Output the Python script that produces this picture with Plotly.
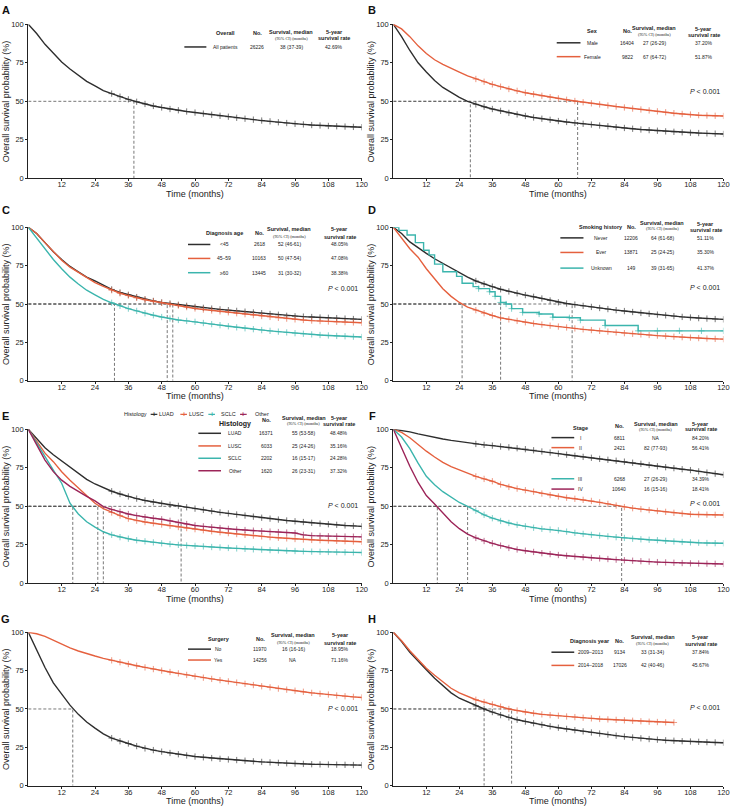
import plotly.graph_objects as go

# time grid (months) used for the read-off survival values
months = list(range(0, 121, 3))

# ---- A: overall
surv_all = [100, 94, 87, 81, 75.5, 71, 67, 63, 60, 57, 55, 53, 51.3, 49.7, 48.3, 47, 46, 45, 44.2, 43.4,
            42.7, 42, 41.3, 40.6, 40, 39.3, 38.7, 38.1, 37.5, 37, 36.4, 35.9, 35.4, 35, 34.6, 34.3, 34,
            33.8, 33.6, 33.4, 33.2]

# ---- B: sex
surv_male = [100, 92, 83, 75, 69, 63.5, 59, 55.5, 52.5, 50, 48, 46.5, 45, 43.8, 42.5, 41.5, 40.5, 39.5,
             38.7, 38, 37.2, 36.6, 36, 35.4, 34.9, 34.3, 33.8, 33.2, 32.7, 32.2, 31.7, 31.3, 30.9, 30.5,
             30.2, 29.9, 29.6, 29.4, 29.2, 29, 28.8]
surv_female = [100, 97, 92, 86, 81, 77, 74, 71.3, 69, 66.5, 64.5, 62.7, 61, 59.5, 58, 56.8, 55.6, 54.6,
               53.6, 52.7, 51.9, 51, 50.2, 49.4, 48.7, 48, 47.3, 46.6, 46, 45.3, 44.7, 44.1, 43.5, 42.9,
               42.3, 41.8, 41.4, 41, 40.8, 40.6, 40.5]

# ---- C: diagnosis age
surv_lt45 = [100, 96, 90, 84, 79, 74.5, 71, 67.5, 65, 62, 59.5, 57.5, 56, 54.5, 53, 52, 51, 50.3, 49.5,
             48.8, 48.1, 47.5, 47, 46.5, 46, 45.5, 45, 44.5, 44, 43.5, 43, 42.3, 42, 41.8, 41.5, 41.2,
             41, 40.8, 40.5, 40.2, 40]
surv_45_59 = [100, 96, 90, 84, 78.5, 74, 70.5, 67, 64, 61.5, 59, 57, 55.5, 54, 52.8, 51.8, 50.8, 49.8,
              49, 48, 47.1, 46.4, 45.8, 45.2, 44.6, 44, 43.4, 42.8, 42.2, 41.6, 41, 40.5, 40, 39.6, 39.2,
              38.9, 38.6, 38.4, 38.2, 38, 37.8]
surv_ge60 = [100, 93, 86, 79, 73, 67.5, 63, 59, 56, 53, 50.8, 48.8, 47, 45.5, 44, 42.7, 41.5, 40.5, 39.6,
             39, 38.4, 37.6, 36.9, 36.2, 35.5, 34.8, 34.2, 33.6, 33, 32.5, 32, 31.5, 31, 30.6, 30.2, 29.8,
             29.5, 29.2, 29, 28.7, 28.5]

# ---- D: smoking history
surv_never = [100, 96, 90.5, 86.5, 83, 79.5, 76.5, 73, 70, 67.5, 65, 63, 61.3, 59.6, 58.2, 57, 55.8, 54.7,
              53.6, 52.3, 51.1, 50.3, 49.6, 48.8, 48.1, 47.4, 46.7, 46, 45.4, 44.8, 44.2, 43.6, 43.1,
              42.6, 42.1, 41.6, 41.2, 40.8, 40.5, 40.2, 40]
surv_ever = [100, 93, 86, 80.5, 73, 66.5, 60, 55, 51, 48, 46, 44, 42.5, 41, 40, 39, 38.1, 37.3, 36.6, 35.9,
             35.3, 34.7, 34.1, 33.5, 33, 32.5, 32, 31.5, 31, 30.6, 30.2, 29.8, 29.4, 29.1, 28.7, 28.4,
             28.1, 27.8, 27.5, 27.3, 27.1]
unknown_t = [0, 2, 5, 8, 11, 13, 15, 18, 23, 25, 29, 31, 35, 37, 39, 41, 43, 47, 53, 58, 64, 68, 77, 89,
             96, 104, 112, 120]
surv_unknown = [100, 98, 95, 90, 85, 82, 76, 71, 68, 63.5, 61.3, 60, 58, 55, 51, 50, 47, 44.5, 43.5, 41.4,
                41, 39.5, 36, 32.5, 32.5, 32.5, 32.5, 32.5]

# ---- E: histology
surv_luad = [100, 94, 88, 83.5, 79.5, 75, 71, 67.5, 64.5, 62, 59.8, 58, 56.4, 55, 53.8, 52.7, 51.8, 51,
             50.3, 49.4, 48.5, 47.7, 46.9, 46.1, 45.4, 44.7, 44, 43.3, 42.6, 42, 41.4, 40.8, 40.3, 39.8,
             39.3, 38.8, 38.4, 38, 37.6, 37.3, 37]
surv_lusc = [100, 92, 84.5, 79, 72.5, 67, 62, 57, 52, 48.5, 46, 44, 42, 40.7, 39.8, 39, 38.2, 37.4, 36.6,
             35.9, 35.2, 34.5, 33.8, 33.2, 32.6, 32, 31.5, 31, 30.5, 30, 29.6, 29.2, 28.8, 28.5, 28.2, 28,
             27.8, 27.6, 27.4, 27.2, 27]
surv_sclc = [100, 91, 82, 73.5, 65, 52, 45, 40, 36.5, 33.5, 31.5, 30, 29, 28, 27.3, 26.6, 26, 25.5, 25,
             24.6, 24.3, 24, 23.6, 23.3, 23, 22.7, 22.4, 22.1, 21.9, 21.6, 21.4, 21.2, 21, 20.8, 20.6,
             20.5, 20.4, 20.3, 20.2, 20.1, 20]
surv_other = [100, 90, 80, 72.5, 67, 63, 59.5, 56.5, 53.5, 49.8, 48, 46.5, 45, 44, 43, 42.3, 41.6, 40.6,
              39.4, 38.5, 37.6, 37, 36.4, 35.9, 35.4, 35, 34.6, 34.2, 33.9, 33.6, 33.3, 33, 32.7, 31.5,
              31, 30.8, 30.6, 30.5, 30.4, 30.3, 30.2]

# ---- F: stage
surv_st1 = [100, 99.2, 98.3, 97, 95.8, 94.7, 93.7, 92.8, 92, 91.2, 90.5, 89.9, 89.4, 88.8, 88.3, 87.7,
            87.1, 86.4, 85.6, 84.9, 84.2, 83.5, 82.8, 82.1, 81.5, 80.8, 80.2, 79.6, 79, 78.3, 77.6, 76.8,
            76, 75.4, 74.8, 74.1, 73.5, 72.7, 71.9, 71.2, 70.5]
surv_st2 = [100, 98, 94.5, 90, 85.8, 82, 78.5, 75.8, 73.5, 71.3, 69.4, 67.8, 66.3, 64.2, 62.6, 61.5, 60.5,
            59.5, 58.3, 57.3, 56.4, 55.6, 54.9, 54.2, 53.5, 52.6, 51.6, 50.5, 49.5, 48.8, 48.2, 47.6, 47,
            46.4, 45.8, 45.3, 44.9, 44.7, 44.6, 44.5, 44.4]
surv_st3 = [100, 95, 87.5, 78, 69.5, 64, 59.5, 55.8, 52.5, 50, 47.2, 44.5, 42.3, 40.5, 39.2, 38, 37, 36.1,
            35.4, 34.9, 34.4, 33.6, 32.8, 32.1, 31.5, 31, 30.5, 30, 29.5, 29, 28.6, 28.3, 28, 27.6, 27.2,
            26.9, 26.6, 26.4, 26.2, 26.1, 26]
surv_st4 = [100, 88, 76, 65.5, 57, 51.5, 46, 40, 35.5, 32, 29.5, 27.5, 26, 24.5, 23, 22, 21.2, 20.4, 19.6,
            19, 18.4, 17.9, 17.4, 17, 16.6, 16.2, 15.8, 15.4, 15, 14.7, 14.4, 14.1, 13.8, 13.6, 13.4,
            13.2, 13, 12.9, 12.8, 12.7, 12.6]

# ---- G: surgery
surv_nosurg = [100, 88, 77, 67, 60, 52.5, 46.5, 41.5, 37.5, 33.8, 31, 29, 27.5, 25.8, 24.3, 23.2, 22.2,
               21.3, 20.5, 19.7, 19, 18.5, 18, 17.5, 17.1, 16.7, 16.3, 15.9, 15.5, 15.2, 14.9, 14.6,
               14.4, 14.2, 14, 13.9, 13.8, 13.7, 13.6, 13.5, 13.4]
surv_surg = [100, 99, 97.3, 94.8, 92, 89.8, 87.8, 86, 84.5, 83, 81.7, 80.5, 79.3, 78.2, 77.1, 76, 75,
             74.1, 73.2, 72.2, 71.2, 70.4, 69.6, 68.8, 68, 67.2, 66.4, 65.6, 64.8, 64.1, 63.3, 62.6,
             61.9, 61.2, 60.5, 59.9, 59.4, 58.8, 58.3, 57.9, 57.5]

# ---- H: diagnosis year
surv_0913 = [100, 94, 87, 81, 75.5, 70, 65, 60.5, 57, 54.5, 52, 50, 48, 46, 44.5, 43, 41.8, 40.7, 39.7,
             38.7, 37.8, 37, 36.2, 35.4, 34.7, 34, 33.3, 32.6, 32, 31.4, 30.9, 30.4, 30, 29.6, 29.3, 29,
             28.8, 28.6, 28.4, 28.2, 28]
surv_1418 = [100, 94.5, 88, 82, 76.5, 72, 67.5, 63.5, 60.5, 58, 56, 54.5, 53, 51.5, 50, 49, 48, 47.2,
             46.5, 46, 45.6, 45.1, 44.7, 44.3, 43.9, 43.5, 43.2, 42.9, 42.6, 42.3, 42, 41.7, 41.5, 41.3,
             41.2]

# ---- table contents
groups_A = ["All patients"]; n_A = ["26226"]; ci_A = ["38 (37-39)"]; rate_A = ["42.69%"]; med_A = [38]
groups_B = ["Male", "Female"]; n_B = ["16404", "9822"]
ci_B = ["27 (26-29)", "67 (64-72)"]; rate_B = ["37.20%", "51.87%"]; med_B = [28, 67]
groups_C = ["&lt;45", "45–59", "≥60"]; n_C = ["2618", "10163", "13445"]
ci_C = ["52 (46-61)", "50 (47-54)", "31 (30-32)"]; rate_C = ["48.05%", "47.08%", "38.38%"]; med_C = [52, 50, 31]
groups_D = ["Never", "Ever", "Unknown"]; n_D = ["12206", "13871", "149"]
ci_D = ["64 (61-68)", "25 (24-25)", "39 (31-65)"]; rate_D = ["51.11%", "35.30%", "41.37%"]; med_D = [65, 25, 39]
groups_E = ["LUAD", "LUSC", "SCLC", "Other"]; n_E = ["16371", "6033", "2202", "1620"]
ci_E = ["55 (53-58)", "25 (24-26)", "16 (15-17)", "26 (23-31)"]
rate_E = ["48.48%", "35.16%", "24.28%", "37.32%"]; med_E = [55, 25, 16, 27]
groups_F = ["I", "II", "III", "IV"]; n_F = ["6811", "2421", "6268", "10640"]
ci_F = ["NA", "82 (77-93)", "27 (26-29)", "16 (15-16)"]
rate_F = ["84.20%", "56.41%", "34.39%", "18.41%"]; med_F = [None, 83, 27, 16]
groups_G = ["No", "Yes"]; n_G = ["11970", "14256"]; ci_G = ["16 (16-16)", "NA"]
rate_G = ["18.95%", "71.16%"]; med_G = [16, None]
groups_H = ["2009–2013", "2014–2018"]; n_H = ["9134", "17026"]; ci_H = ["33 (31-34)", "42 (40-46)"]
rate_H = ["37.84%", "45.67%"]; med_H = [33, 43]

BLACK = "#2e2e2e"
RED = "#e5603e"
TEAL = "#3bb5ad"
CRIMSON = "#9c2458"
FONT = "Liberation Sans, Arial, sans-serif"
SERIF = "Liberation Serif, Times New Roman, serif"
TXT = "#222222"

panels = [
    dict(letter="A", head="Overall", groups=groups_A, n=n_A, ci=ci_A, rate=rate_A, med=med_A, p=False,
         curves=[(months, surv_all, BLACK, "linear")],
         lx=(0.468, 0.534), cx=(0.59, 0.687, 0.789, 0.918),
         gy=0.943, sy=(0.95, 0.911), ry=(0.95, 0.911), rows=[0.853], py=None),
    dict(letter="B", head="Sex", groups=groups_B, n=n_B, ci=ci_B, rate=rate_B, med=med_B, p=True,
         curves=[(months, surv_male, BLACK, "linear"), (months, surv_female, RED, "linear")],
         lx=(0.495, 0.567), cx=(0.603, 0.708, 0.79, 0.94),
         gy=0.958, sy=(0.974, 0.935), ry=(0.968, 0.932), rows=[0.88, 0.79], py=0.562),
    dict(letter="C", head="Diagnosis age", groups=groups_C, n=n_C, ci=ci_C, rate=rate_C, med=med_C, p=True,
         curves=[(months, surv_lt45, BLACK, "linear"), (months, surv_45_59, RED, "linear"),
                 (months, surv_ge60, TEAL, "linear")],
         lx=(0.479, 0.546), cx=(0.588, 0.693, 0.783, 0.934),
         gy=0.961, sy=(0.987, 0.939), ry=(0.987, 0.939), rows=[0.888, 0.797, 0.704], py=0.598),
    dict(letter="D", head="Smoking history", groups=groups_D, n=n_D, ci=ci_D, rate=rate_D, med=med_D, p=True,
         curves=[(months, surv_never, BLACK, "linear"), (months, surv_ever, RED, "linear"),
                 (unknown_t, surv_unknown, TEAL, "hv")],
         lx=(0.506, 0.576), cx=(0.63, 0.72, 0.814, 0.946),
         gy=1.0, sy=(1.029, 0.99), ry=(1.022, 0.983), rows=[0.931, 0.836, 0.734], py=0.606),
    dict(letter="E", head="Histology", groups=groups_E, n=n_E, ci=ci_E, rate=rate_E, med=med_E, p=True,
         curves=[(months, surv_luad, BLACK, "linear"), (months, surv_lusc, RED, "linear"),
                 (months, surv_sclc, TEAL, "linear"), (months, surv_other, CRIMSON, "linear")],
         lx=(0.51, 0.578), cx=(0.621, 0.713, 0.826, 0.933),
         gy=1.036, ny=1.058, sy=(1.075, 1.039), ry=(1.075, 1.032), rows=[0.974, 0.892, 0.812, 0.731],
         py=0.508, bighead=True),
    dict(letter="F", head="Stage", groups=groups_F, n=n_F, ci=ci_F, rate=rate_F, med=med_F, p=True,
         curves=[(months, surv_st1, BLACK, "linear"), (months, surv_st2, RED, "linear"),
                 (months, surv_st3, TEAL, "linear"), (months, surv_st4, CRIMSON, "linear")],
         lx=(0.479, 0.548), cx=(0.566, 0.684, 0.795, 0.931),
         gy=1.011, ny=1.021, sy=(1.037, 1.0), ry=(1.037, 1.004), rows=[0.946, 0.881, 0.679, 0.612],
         py=0.521),
    dict(letter="G", head="Surgery", groups=groups_G, n=n_G, ci=ci_G, rate=rate_G, med=med_G, p=True,
         curves=[(months, surv_nosurg, BLACK, "linear"), (months, surv_surg, RED, "linear")],
         lx=(0.479, 0.548), cx=(0.571, 0.696, 0.794, 0.936),
         gy=0.957, sy=(0.983, 0.935), ry=(0.983, 0.931), rows=[0.89, 0.819], py=0.503),
    dict(letter="H", head="Diagnosis year", groups=groups_H, n=n_H, ci=ci_H, rate=rate_H, med=med_H, p=True,
         curves=[(months, surv_0913, BLACK, "linear"), (months[:len(surv_1418)], surv_1418, RED, "linear")],
         lx=(0.479, 0.548), cx=(0.597, 0.686, 0.786, 0.931),
         gy=0.942, sy=(0.968, 0.925), ry=(0.968, 0.925), rows=[0.87, 0.784], py=0.509),
]

col_dom = [(0.0388, 0.4955), (0.5388, 0.991)]
row_dom = [(0.7793, 0.9699), (0.5288, 0.7187), (0.2780, 0.4687), (0.0276, 0.2175)]
letter_pos = [(6, 10), (372, 10), (6, 210), (372, 210), (6, 416), (372, 416), (6, 619), (372, 619)]

fig = go.Figure()
annotations = []
shapes = []
layout = {}


def text(xa, ya, x, y, s, size=5, bold=False, family=FONT, xanchor="center", color=TXT, angle=0):
    if bold:
        s = "<b>" + s + "</b>"
    annotations.append(dict(xref=xa + " domain", yref=ya + " domain", x=x, y=y, text=s, showarrow=False,
                            xanchor=xanchor, yanchor="middle", textangle=angle,
                            font=dict(size=size, family=family, color=color)))


for i, p in enumerate(panels):
    k = i + 1
    sfx = "" if k == 1 else str(k)
    xa, ya = "x" + sfx, "y" + sfx
    r, c = divmod(i, 2)

    # median reference lines
    for m in p["med"]:
        if m is None:
            continue
        fig.add_trace(go.Scatter(x=[0, m, m], y=[50, 50, 0], xaxis=xa, yaxis=ya, mode="lines",
                                 line=dict(color="#555555", width=0.8, dash="3px,2px"),
                                 showlegend=False, hoverinfo="skip"))

    # survival curves with censor marks
    for tx, sv, col, shp in p["curves"]:
        sizes = [4.5 if t >= 30 else 0 for t in tx]
        fig.add_trace(go.Scatter(x=tx, y=sv, xaxis=xa, yaxis=ya, mode="lines+markers",
                                 line=dict(color=col, width=1.4, shape=shp),
                                 marker=dict(symbol="cross-thin", size=sizes, color=col,
                                             line=dict(color=col, width=0.9)),
                                 showlegend=False, hoverinfo="skip"))

    common = dict(showline=True, linecolor=TXT, linewidth=1.2, ticks="outside", ticklen=2, tickwidth=1,
                  tickcolor=TXT, showgrid=False, zeroline=False, automargin=False,
                  tickfont=dict(size=7.5, color=TXT, family=FONT))
    layout["xaxis" + sfx] = dict(common, domain=col_dom[c], range=[0, 120], anchor=ya,
                                 tickvals=list(range(12, 121, 12)), ticklabelstandoff=-3)
    layout["yaxis" + sfx] = dict(common, domain=row_dom[r], range=[0, 100], anchor=xa,
                                 tickvals=[0, 25, 50, 75, 100])

    # axis titles
    text(xa, ya, 0.5, -0.102, "Time (months)", size=9)
    text(xa, ya, -0.067, 0.5, "Overall survival probability (%)", size=9, angle=-90)

    # panel letter
    lx, ly = letter_pos[i]
    annotations.append(dict(xref="paper", yref="paper", x=lx / 730, y=1 - ly / 808, text="<b>" + p["letter"] + "</b>",
                            showarrow=False, xanchor="center", yanchor="middle",
                            font=dict(size=11, family=FONT, color="#111111")))

    # table header
    cx = p["cx"]
    gy = p["gy"]
    text(xa, ya, cx[0], gy, p["head"], size=7 if p.get("bighead") else 5.5, bold=True)
    text(xa, ya, cx[1], p.get("ny", gy), "No.", size=5.5, bold=True)
    text(xa, ya, cx[2], p["sy"][0], "Survival, median", size=5.5, bold=True)
    text(xa, ya, cx[2], p["sy"][1], "(95% CI) (months)", size=4.3, family=SERIF)
    text(xa, ya, cx[3], p["ry"][0], "5-year", size=5.5, bold=True)
    text(xa, ya, cx[3], p["ry"][1], "survival rate", size=5.5, bold=True)

    # table rows
    for j, yy in enumerate(p["rows"]):
        col = p["curves"][j][2]
        shapes.append(dict(type="line", xref=xa + " domain", yref=ya + " domain",
                           x0=p["lx"][0], x1=p["lx"][1], y0=yy, y1=yy, line=dict(color=col, width=1.5)))
        text(xa, ya, cx[0], yy, p["groups"][j])
        text(xa, ya, cx[1], yy, p["n"][j])
        text(xa, ya, cx[2], yy, p["ci"][j])
        text(xa, ya, cx[3], yy, p["rate"][j])

    if p["p"]:
        text(xa, ya, 0.995, p["py"], "<i>P</i> &lt; 0.001", size=7, xanchor="right")

# small key above panel E
ekey_cols = [BLACK, RED, TEAL, CRIMSON]
ekey_sym = [0.377, 0.466, 0.55, 0.645]
ekey_lab = [0.41, 0.5, 0.595, 0.696]
text("x5", "y5", 0.32, 1.097, "Histology", size=5.5)
for j in range(4):
    shapes.append(dict(type="line", xref="x5 domain", yref="y5 domain", x0=ekey_sym[j] - 0.01,
                       x1=ekey_sym[j] + 0.01, y0=1.097, y1=1.097, line=dict(color=ekey_cols[j], width=1.2)))
    text("x5", "y5", ekey_sym[j], 1.097, "<b>+</b>", size=7, color=ekey_cols[j])
    text("x5", "y5", ekey_lab[j] + 0.005, 1.097, groups_E[j], size=5.5)

fig.update_layout(**layout)
fig.update_layout(width=730, height=808, margin=dict(l=0, r=0, t=0, b=0), showlegend=False,
                  paper_bgcolor="white", plot_bgcolor="white", annotations=annotations, shapes=shapes,
                  font=dict(family=FONT, color=TXT))

# the page body has a default 8px margin; drop it so the figure fills the window
fig.write_html("out.html", config={"displayModeBar": False},
               post_script="document.body.style.margin='0';")
